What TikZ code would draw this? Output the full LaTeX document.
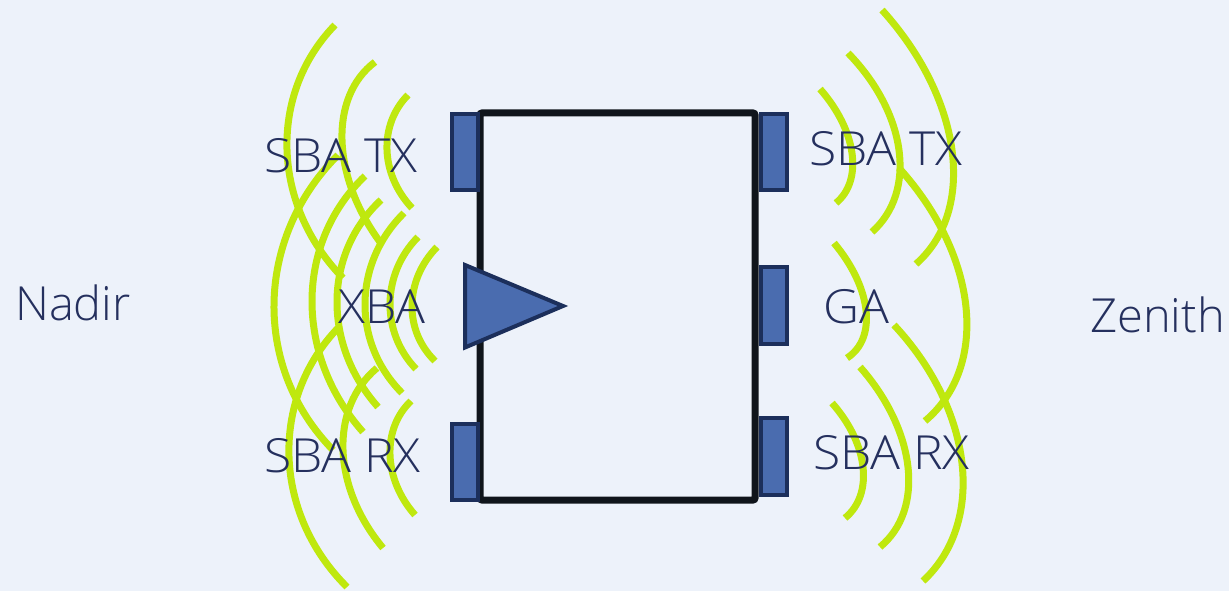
\documentclass[tikz,border=0pt]{standalone}
\usepackage{fontspec}
\setmainfont{Open Sans Light}
\newfontfamily\capsfont[FakeStretch=1.06]{Open Sans Light}
\usepackage{tikz}
\usetikzlibrary{calc}
\definecolor{pagebg}{RGB}{237,242,250}
\definecolor{wavegreen}{RGB}{191,232,14}
\definecolor{antblue}{RGB}{74,108,175}
\definecolor{antedge}{RGB}{28,47,91}
\definecolor{boxblack}{RGB}{16,21,27}
\definecolor{labelblue}{RGB}{37,48,94}

\begin{document}
\begin{tikzpicture}[x=1pt,y=-1pt,
    wave/.style={draw=wavegreen, line width=7pt},
    antenna/.style={draw=antedge, fill=antblue, line width=4pt},
    label/.style={anchor=base west, inner sep=0pt, text=labelblue, font=\fontsize{47}{47}\selectfont},
    caplabel/.style={label, font=\capsfont\fontsize{47}{47}\selectfont}]
    % Background
    \fill[pagebg] (0,0) rectangle (1229,591);
    \useasboundingbox (0,0) rectangle (1229,591);

    % Body
    \draw[draw=boxblack, line width=7pt, rounded corners=2pt] (480,113) rectangle (755,500);

    % Antennas
    \draw[antenna] (452,114) rectangle (478,190);
    \draw[antenna] (452,424) rectangle (478,500);
    \draw[antenna] (761,114) rectangle (787,190);
    \draw[antenna] (761,267) rectangle (787,344);
    \draw[antenna] (761,418) rectangle (787,495);
    \draw[antenna, line join=miter] (465,265) -- (563,306) -- (465,347.5) -- cycle;

    % Waves, left
    \foreach \ax/\ay/\mx/\my/\bx/\by in {
        335/25/287/150/343/278, 375/62/342/140/380/242, 408/95/387/150/412/208,
        338/155/274/303/333/450, 365/176/312/300/363/432, 381/200/337/300/378/407,
        404/213/365/303/402/393, 418/237/390/303/416/369, 437/247/412/305/435/361,
        338/328/289/457/347/587, 377/368/343/450/383/548, 411/401/390/455/415/515}
        \draw[wave] (\ax,\ay) .. controls ($0.053*(\ax,\ay)+1.333*(\mx,\my)-0.386*(\bx,\by)$)
            and ($0.053*(\bx,\by)+1.333*(\mx,\my)-0.386*(\ax,\ay)$) .. (\bx,\by);

    % Waves, right
    \foreach \ax/\ay/\mx/\my/\bx/\by in {
        820/89/852/153/836/203, 848/53/899/150/872/232, 882/10/952/150/916/264,
        834/243/866/310/847/358, 899/168/966/307/925/421,
        832/403/863/467/845/518, 860/367/908/467/880/547, 894/325/962/463/923/581}
        \draw[wave] (\ax,\ay) .. controls ($0.053*(\ax,\ay)+1.333*(\mx,\my)-0.386*(\bx,\by)$)
            and ($0.053*(\bx,\by)+1.333*(\mx,\my)-0.386*(\ax,\ay)$) .. (\bx,\by);

    % Labels
    \node[label] (nadir) at (15,320) {Nadir};
    \node[label] (zenith) at (1090,332) {Zenith};
    \node[caplabel] (txleft) at (264,172) {SBA TX};
    \node[caplabel] (xba) at (338,323) {XBA};
    \node[caplabel] (rxleft) at (264,472) {SBA RX};
    \node[caplabel] (txright) at (809,165) {SBA TX};
    \node[caplabel] (ga) at (823,323) {GA};
    \node[caplabel] (rxright) at (813,469) {SBA RX};
\end{tikzpicture}
\end{document}
